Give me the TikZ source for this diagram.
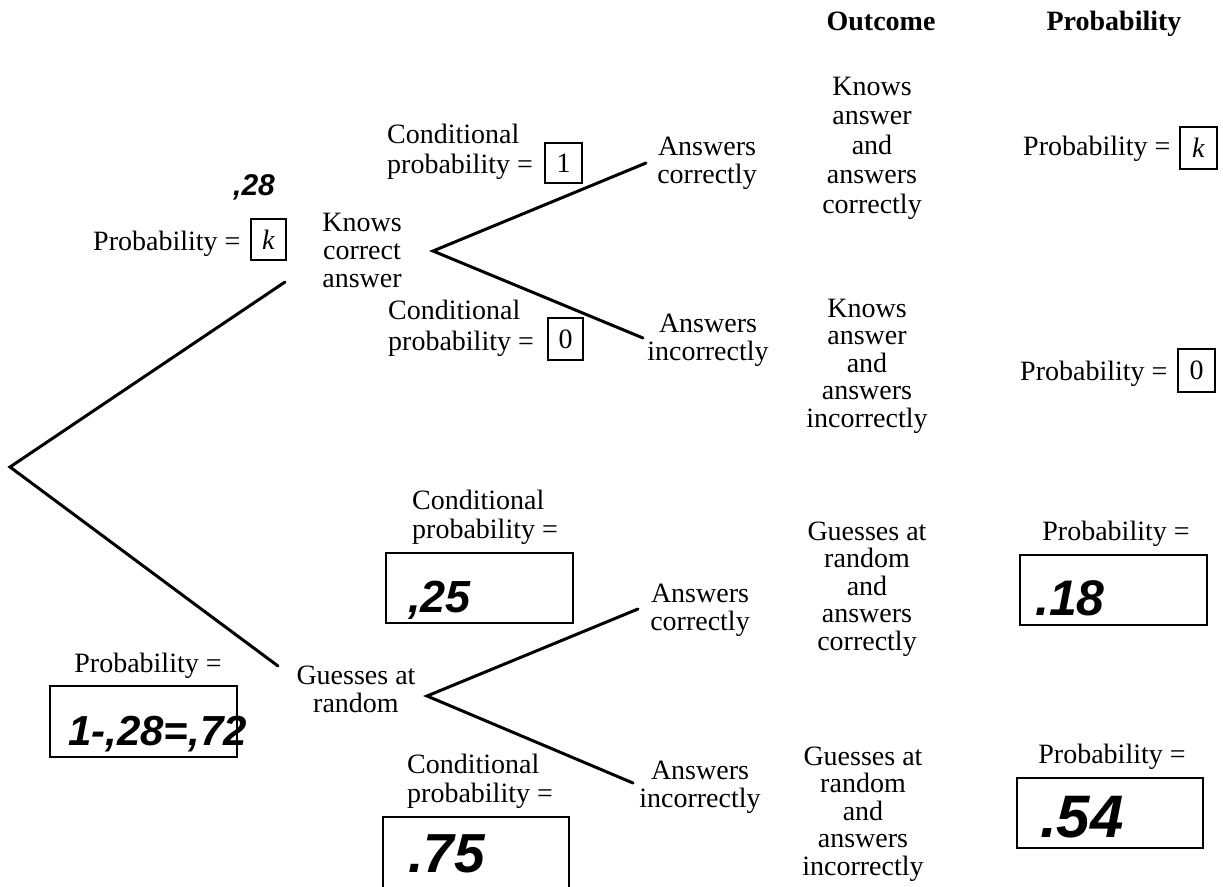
\documentclass[tikz,border=0pt]{standalone}
\usepackage{fontspec}
\setmainfont{Liberation Serif}
\newfontfamily\handfont{Liberation Sans}
\begin{document}
\begin{tikzpicture}[x=1pt,y=-1pt,
  txt/.style={font=\fontsize{28}{28}\selectfont, inner sep=0pt},
  lbl/.style={txt, anchor=base},
  blk/.style={txt, align=center, anchor=base},
  lblk/.style={txt, align=left, anchor=base west},
  hdr/.style={inner sep=0pt, font=\fontsize{28}{28}\selectfont\bfseries, anchor=base},
  valbox/.style={draw, line width=2.5pt, inner sep=0pt, font=\fontsize{28}{28}\selectfont},
  hand/.style={inner sep=0pt, anchor=base west, font=\handfont\itshape\bfseries\fontsize{#1}{#1}\selectfont},
  branch/.style={line width=3pt, line cap=round}
]
\useasboundingbox[fill=white] (0,0) rectangle (1223,886);
\begin{scope}
\clip (0,0) rectangle (1223,886);

% headers
\node[hdr] (hout) at (881,30) {Outcome};
\node[hdr] (hprob) at (1114,30) {Probability};

% first level
\coordinate (root) at (10,467);
\coordinate (kend) at (285,282);
\coordinate (gend) at (278,666);
\node[lbl, anchor=base west] (pk) at (93,250) {Probability =};
\node[valbox, minimum width=35, minimum height=41] (bk) at (268.5,239.5) {\textit{k}};
\node[hand=30] (h28) at (233,195) {,28};
\node[blk] (knows) at (362,287) {Knows\\correct\\answer};

\node[lbl] (pg) at (148,672) {Probability =};
\node[valbox, minimum width=187, minimum height=71] (bg) at (143.5,721.5) {};
\node[hand=42] (h72) at (68,745) {1-,28=,72};
\node[blk] (guess) at (356,712) {Guesses at\\random};

% knows branch
\coordinate (kb) at (433,251);
\coordinate (kc) at (646,163);
\coordinate (ki) at (643,338);
\node[lblk, font=\fontsize{28}{30}\selectfont] (c1) at (387,173) {Conditional\\probability =};
\node[valbox, minimum width=37, minimum height=40] (b1) at (563.5,163) {1};
\node[lblk, font=\fontsize{28}{31}\selectfont] (c2) at (388,350) {Conditional\\probability =};
\node[valbox, minimum width=35, minimum height=42] (b2) at (565.5,339) {0};
\node[blk] (a1) at (707,183) {Answers\\correctly};
\node[blk] (a2) at (708,360) {Answers\\incorrectly};

% guesses branch
\coordinate (gb) at (427,696);
\coordinate (gc) at (638,609);
\coordinate (gi) at (633,783);
\node[lblk, font=\fontsize{28}{29}\selectfont] (c3) at (412,538) {Conditional\\probability =};
\node[valbox, minimum width=187, minimum height=70] (b3) at (479.5,588) {};
\node[hand=45] (h25) at (408,612) {,25};
\node[lblk, font=\fontsize{28}{29}\selectfont] (c4) at (407,802) {Conditional\\probability =};
\node[valbox, minimum width=186, minimum height=90] (b4) at (476,862) {};
\node[hand=55] (h75) at (408,872) {.75};
\node[blk] (a3) at (700,630) {Answers\\correctly};
\node[blk] (a4) at (700,807) {Answers\\incorrectly};

% outcomes
\node[blk, font=\fontsize{28}{29.5}\selectfont] (o1) at (872,213) {Knows\\answer\\and\\answers\\correctly};
\node[blk, font=\fontsize{28}{27.5}\selectfont] (o2) at (867,427) {Knows\\answer\\and\\answers\\incorrectly};
\node[blk, font=\fontsize{28}{27.5}\selectfont] (o3) at (867,650) {Guesses at\\random\\and\\answers\\correctly};
\node[blk, font=\fontsize{28}{27.5}\selectfont] (o4) at (863,875) {Guesses at\\random\\and\\answers\\incorrectly};

% probabilities
\node[lbl, anchor=base west] (r1) at (1023,155) {Probability =};
\node[valbox, minimum width=37, minimum height=42] (rb1) at (1198.5,148) {\textit{k}};
\node[lbl, anchor=base west] (r2) at (1020,380) {Probability =};
\node[valbox, minimum width=37, minimum height=43] (rb2) at (1196.5,370.5) {0};
\node[lbl] (r3) at (1116,540) {Probability =};
\node[valbox, minimum width=187, minimum height=70] (rb3) at (1113.5,590) {};
\node[hand=50] (h18) at (1035,615) {.18};
\node[lbl] (r4) at (1112,763) {Probability =};
\node[valbox, minimum width=186, minimum height=70] (rb4) at (1110,813) {};
\node[hand=60] (h54) at (1040,837) {.54};

% branches
\draw[branch] (kend) -- (root) -- (gend);
\draw[branch] (kc) -- (kb) -- (ki);
\draw[branch] (gc) -- (gb) -- (gi);
\end{scope}
\end{tikzpicture}
\end{document}
